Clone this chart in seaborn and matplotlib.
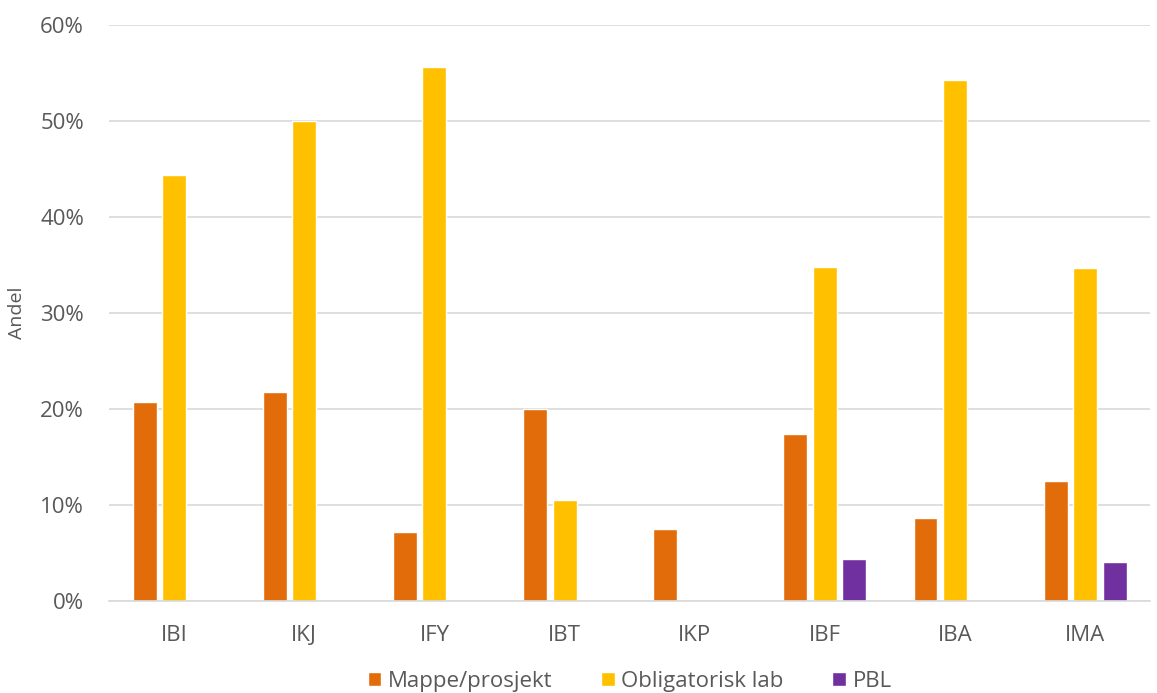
import numpy as np
import pandas as pd
import matplotlib
matplotlib.use("Agg")
import matplotlib.pyplot as plt
import seaborn as sns
from matplotlib.ticker import PercentFormatter

# Data (share, %)
kategorier = ["IBI", "IKJ", "IFY", "IBT", "IKP", "IBF", "IBA", "IMA"]
serier = ["Mappe/prosjekt", "Obligatorisk lab", "PBL"]
mappe = [20.7, 21.8, 7.2, 20.0, 7.5, 17.4, 8.6, 12.5]
lab = [44.4, 50.0, 55.6, 10.5, 0.0, 34.8, 54.3, 34.7]
pbl = [0.0, 0.0, 0.0, 0.0, 0.0, 4.4, 0.0, 4.1]
farger = ["#E36C0A", "#FFC000", "#7030A0"]

df = pd.DataFrame({
    "Kategori": kategorier * 3,
    "Serie": [serier[0]] * 8 + [serier[1]] * 8 + [serier[2]] * 8,
    "Andel": mappe + lab + pbl,
})

sns.set_style("white")
plt.rcParams["font.family"] = ["Open Sans", "DejaVu Sans"]

fig = plt.figure(figsize=(11.57, 6.93), dpi=100)
ax = fig.add_axes([0.0942, 0.1328, 0.9, 0.8311])

sns.barplot(data=df, x="Kategori", y="Andel", hue="Serie", order=kategorier,
            hue_order=serier, palette=farger, width=0.68, gap=0.19,
            saturation=1, ax=ax, legend=True)

ax.set_ylim(0, 60)
ax.set_yticks(np.arange(0, 61, 10))
ax.yaxis.set_major_formatter(PercentFormatter(decimals=0))
ax.set_xlim(-0.5, 7.5)
ax.grid(axis="y", color="#D9D9D9", linewidth=1.2)
ax.set_axisbelow(True)
for s in ["top", "right", "left"]:
    ax.spines[s].set_visible(False)
ax.spines["bottom"].set_color("#D9D9D9")
ax.spines["bottom"].set_linewidth(1.2)
ax.tick_params(axis="both", length=0, colors="#595959", labelsize=16)
ax.tick_params(axis="x", pad=17)
ax.tick_params(axis="y", pad=18)
ax.set_xlabel("")
ax.set_ylabel("Andel", fontsize=14, color="#595959", labelpad=10)

ax.legend(loc="upper center", bbox_to_anchor=(0.5, -0.122), ncol=3,
          frameon=False, fontsize=16, labelcolor="#595959",
          handlelength=0.6, handleheight=0.6, handletextpad=0.3,
          columnspacing=2.2, borderaxespad=0, borderpad=0)

fig.savefig("out.png", dpi=100)
